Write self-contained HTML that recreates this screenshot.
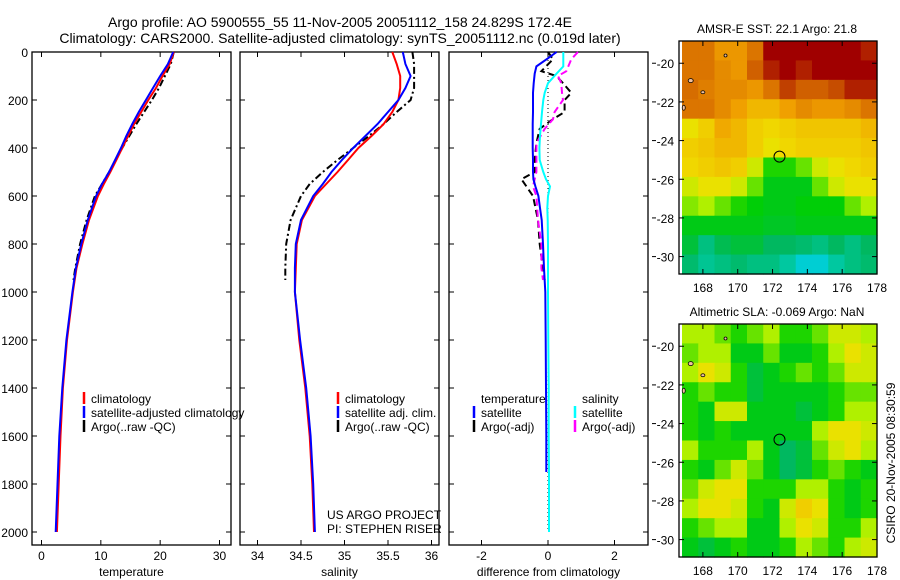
<!DOCTYPE html>
<html><head><meta charset="utf-8"><style>
html,body{margin:0;padding:0;background:#fff;}
svg{display:block;font-family:"Liberation Sans",Arial,sans-serif;}
</style></head>
<body>
<svg id="fig" width="900" height="580" viewBox="0 0 900 580" xmlns="http://www.w3.org/2000/svg">
<text x="340" y="27" font-size="14" text-anchor="middle">Argo profile: AO 5900555_55 11-Nov-2005 20051112_158 24.829S 172.4E</text>
<text x="340" y="43" font-size="14" text-anchor="middle">Climatology: CARS2000. Satellite-adjusted climatology: synTS_20051112.nc (0.019d later)</text>
<g id="g1"></g>
<g id="g2"></g>
<g id="g3"></g>
<g id="m1"></g>
<g id="m2"></g>
<text transform="translate(895,463) rotate(-90)" font-size="12" text-anchor="middle">CSIRO 20-Nov-2005 08:30:59</text>
</svg>
<script>
// ---- data ----
const depths = [0,50,100,150,200,250,300,350,400,450,500,550,600,700,800,900,1000,1200,1400,1600,1800,2000];
const tempClim = [22.3,21.6,20.4,19.3,18.0,16.8,15.6,14.6,13.6,12.6,11.6,10.5,9.5,8.0,6.9,5.9,5.3,4.3,3.6,3.2,2.9,2.6];
const tempSat  = [22.2,21.3,20.0,18.8,17.6,16.4,15.3,14.3,13.4,12.4,11.4,10.2,9.2,7.8,6.7,5.8,5.2,4.2,3.5,3.0,2.7,2.4];
const argoDepths = [0,50,100,150,200,250,300,350,400,450,500,550,600,700,800,900,950];
const tempArgo = [22.3,21.8,20.8,19.8,18.6,17.3,16.0,14.8,13.6,12.5,11.4,10.2,9.0,7.6,6.5,5.7,5.4];
const salClim = [35.55,35.60,35.64,35.64,35.62,35.55,35.45,35.31,35.16,35.04,34.92,34.79,34.66,34.51,34.45,34.44,34.43,34.48,34.55,34.60,34.63,34.65];
const salSat  = [35.67,35.70,35.76,35.70,35.62,35.50,35.38,35.24,35.10,34.97,34.85,34.75,34.64,34.50,34.44,34.43,34.43,34.49,34.56,34.61,34.64,34.66];
const salArgo = [35.78,35.80,35.80,35.80,35.76,35.60,35.45,35.28,35.10,34.92,34.75,34.60,34.50,34.38,34.33,34.32,34.32];
const diffDepths = [0,30,60,90,130,170,200,250,300,350,400,450,500,530,560,600,650,700,800,900,1000,1200,1400,1600,1750,2000];
const dTempSat = [0.26,-0.04,-0.35,-0.40,-0.43,-0.45,-0.45,-0.45,-0.46,-0.46,-0.46,-0.45,-0.45,-0.44,-0.38,-0.29,-0.24,-0.19,-0.15,-0.12,-0.08,-0.07,-0.06,-0.05,-0.05,null];
const dSalSat  = [0.46,0.46,0.46,0.26,0.0,-0.10,-0.14,-0.18,-0.21,-0.24,-0.26,-0.25,-0.14,-0.06,0.06,0.0,-0.02,-0.01,0.0,0.0,0.0,0.01,0.02,0.02,0.03,0.03];
const dArgoDepths = [0,30,80,100,130,170,200,250,280,320,380,450,500,530,560,600,700,800,900,950];
const dTempArgo = [0.0,0.15,-0.20,0.25,0.45,0.70,0.50,0.50,0.15,-0.25,-0.35,-0.40,-0.40,-0.80,-0.65,-0.45,-0.30,-0.25,-0.15,-0.10];
const dSalArgo  = [0.90,0.70,0.55,0.30,0.40,0.42,0.45,0.20,0.15,-0.10,-0.35,-0.35,-0.35,-0.40,-0.45,-0.35,-0.30,-0.20,-0.20,-0.15];
const depthTicks = [0,200,400,600,800,1000,1200,1400,1600,1800,2000];
const tempTicks = [0,10,20,30];
const salTicks = [34,34.5,35,35.5,36];
const diffTicks = [-2,0,2];
const latTicks = [-20,-22,-24,-26,-28,-30];
const lonTicks = [168,170,172,174,176,178];
const sstGrid = [
[0.80,0.80,0.72,0.72,0.80,1.00,1.00,1.00,1.00,1.00,1.00,0.95],
[0.80,0.80,0.75,0.72,0.85,0.95,1.00,0.95,1.00,1.00,1.00,1.00],
[0.82,0.78,0.75,0.75,0.72,0.80,0.90,0.85,0.85,0.88,0.95,0.95],
[0.80,0.80,0.75,0.70,0.65,0.65,0.70,0.75,0.72,0.72,0.75,0.80],
[0.55,0.60,0.68,0.65,0.60,0.58,0.60,0.62,0.62,0.62,0.62,0.65],
[0.60,0.62,0.65,0.65,0.60,0.55,0.58,0.60,0.60,0.60,0.60,0.62],
[0.58,0.60,0.62,0.60,0.50,0.35,0.35,0.40,0.50,0.55,0.58,0.60],
[0.50,0.55,0.55,0.50,0.40,0.30,0.30,0.30,0.40,0.50,0.55,0.55],
[0.42,0.45,0.40,0.35,0.32,0.30,0.30,0.32,0.32,0.32,0.40,0.45],
[0.30,0.30,0.30,0.30,0.30,0.28,0.28,0.30,0.30,0.30,0.30,0.30],
[0.25,0.15,0.22,0.25,0.25,0.20,0.20,0.18,0.15,0.20,0.15,0.20],
[0.18,0.12,0.15,0.18,0.15,0.15,0.10,0.02,0.02,0.10,0.15,0.18]];
const slaGrid = [
[0.45,0.45,0.40,0.35,0.40,0.45,0.35,0.35,0.40,0.50,0.50,0.45],
[0.40,0.45,0.45,0.30,0.30,0.40,0.30,0.30,0.35,0.45,0.55,0.50],
[0.45,0.55,0.50,0.35,0.25,0.30,0.35,0.40,0.35,0.40,0.50,0.50],
[0.35,0.40,0.35,0.35,0.25,0.30,0.30,0.30,0.30,0.35,0.40,0.40],
[0.35,0.30,0.50,0.50,0.30,0.30,0.30,0.25,0.30,0.35,0.45,0.45],
[0.35,0.30,0.35,0.30,0.30,0.30,0.30,0.30,0.45,0.55,0.55,0.50],
[0.45,0.35,0.35,0.35,0.45,0.30,0.20,0.25,0.40,0.50,0.55,0.45],
[0.35,0.30,0.40,0.50,0.40,0.30,0.20,0.25,0.35,0.40,0.35,0.30],
[0.40,0.50,0.55,0.55,0.35,0.35,0.35,0.45,0.45,0.35,0.30,0.35],
[0.45,0.55,0.55,0.50,0.35,0.30,0.50,0.60,0.55,0.35,0.30,0.35],
[0.35,0.40,0.45,0.45,0.30,0.30,0.45,0.55,0.50,0.35,0.35,0.45],
[0.30,0.25,0.30,0.35,0.30,0.30,0.35,0.45,0.40,0.35,0.45,0.50]];
const argoLon = 172.4, argoLat = -24.83;

// ---- helpers ----
const NS='http://www.w3.org/2000/svg';
function mk(parent,tag,attrs){const e=document.createElementNS(NS,tag);for(const k in attrs)e.setAttribute(k,attrs[k]);parent.appendChild(e);return e;}
const Y0=52, Y1=545, yD=d=>Y0+d*0.24;
function lin(d0,d1,r0,r1){return v=>r0+(v-d0)*(r1-r0)/(d1-d0);}

function panel(g,x0,x1,xs,xticks,showY,label,lname){
  const r=mk(g,'rect',{x:x0,y:Y0,width:x1-x0,height:Y1-Y0,fill:'none',stroke:'#000','stroke-width':1.3});
  
  
  depthTicks.forEach(d=>{
    const y=yD(d);
    mk(g,'line',{x1:x0,x2:x0+5,y1:y,y2:y,stroke:'#000'});
    mk(g,'line',{x1:x1,x2:x1-5,y1:y,y2:y,stroke:'#000'});
    if(showY){const t=mk(g,'text',{x:x0-4,y:y+5,'font-size':12,'text-anchor':'end'});t.textContent=d;
      
      }
  });
  xticks.forEach(v=>{
    const x=xs(v);
    mk(g,'line',{x1:x,x2:x,y1:Y1,y2:Y1-5,stroke:'#000'});
    mk(g,'line',{x1:x,x2:x,y1:Y0,y2:Y0+5,stroke:'#000'});
    const t=mk(g,'text',{x:x,y:560,'font-size':12,'text-anchor':'middle'});t.textContent=v;
    
    
  });
  const t=mk(g,'text',{x:(x0+x1)/2,y:576,'font-size':12,'text-anchor':'middle'});t.textContent=label;
  
  
}
function series(g,xs,ds,vals,color,dash,name,w){
  let pts=[];ds.forEach((d,i)=>{if(vals[i]!==null)pts.push(xs(vals[i]).toFixed(1)+','+yD(d).toFixed(1));});
  const p=mk(g,'polyline',{points:pts.join(' '),fill:'none',stroke:color,'stroke-width':w||2,'stroke-dasharray':dash||'none'});
  
  
}
function legend(g,x,y,color,text,name){
  if(color){mk(g,'line',{x1:x,x2:x,y1:y-11,y2:y+1,stroke:color,'stroke-width':2.5});}
  const t=mk(g,'text',{x:x+7,y:y,'font-size':12});t.textContent=text;
  
  
}

// ---- temperature panel ----
const g1=document.getElementById('g1');
const xT=lin(0,30,41.5,219.5);
panel(g1,32,231,xT,tempTicks,true,'temperature','temperature');
series(g1,xT,argoDepths,tempArgo,'#000','7,3,2,3','argo-temperature-line');
series(g1,xT,depths,tempClim,'#f00',null,'climatology-temperature-line');
series(g1,xT,depths,tempSat,'#00f',null,'satellite-temperature-line');
legend(g1,84,403,'#f00','climatology','legend-climatology');
legend(g1,84,417,'#00f','satellite-adjusted climatology','legend-satellite-adjusted');
legend(g1,84,431,'#000','Argo(..raw -QC)','legend-argo');

// ---- salinity panel ----
const g2=document.getElementById('g2');
const xS=lin(34,36,257.5,431.5);
panel(g2,240,439,xS,salTicks,false,'salinity','salinity');
series(g2,xS,argoDepths,salArgo,'#000','7,3,2,3','argo-salinity-line');
series(g2,xS,depths,salClim,'#f00',null,'climatology-salinity-line');
series(g2,xS,depths,salSat,'#00f',null,'satellite-salinity-line');
legend(g2,338,403,'#f00','climatology','legend-climatology');
legend(g2,338,417,'#00f','satellite adj. clim.','legend-satellite-adj');
legend(g2,338,431,'#000','Argo(..raw -QC)','legend-argo');
legend(g2,320,519,null,'US ARGO PROJECT','project-note');
legend(g2,320,533,null,'PI: STEPHEN RISER','pi-note');

// ---- difference panel ----
const g3=document.getElementById('g3');
const xDf=lin(-2,2,481.5,614.5);
panel(g3,449,648,xDf,diffTicks,false,'difference from climatology','difference');
const zl=mk(g3,'line',{x1:xDf(0),x2:xDf(0),y1:Y0,y2:yD(2000),stroke:'#000','stroke-dasharray':'1,3'});


series(g3,xDf,dArgoDepths,dTempArgo,'#000','7,4','argo-temperature-diff-line');
series(g3,xDf,dArgoDepths,dSalArgo,'#f0f','7,4','argo-salinity-diff-line');
series(g3,xDf,diffDepths,dTempSat,'#00f',null,'satellite-temperature-diff-line');
series(g3,xDf,diffDepths,dSalSat,'#0ff',null,'satellite-salinity-diff-line');
legend(g3,474,403,null,'temperature','legend-temperature-header');
legend(g3,575,403,null,'salinity','legend-salinity-header');
legend(g3,474,417,'#00f','satellite','legend-temp-satellite');
legend(g3,474,431,'#000','Argo(-adj)','legend-temp-argo');
legend(g3,575,417,'#0ff','satellite','legend-sal-satellite');
legend(g3,575,431,'#f0f','Argo(-adj)','legend-sal-argo');

// ---- maps ----
const stops=[[0,[0,208,224]],[0.1,[0,200,160]],[0.2,[0,184,96]],[0.33,[0,208,0]],[0.45,[176,240,0]],[0.56,[240,224,0]],[0.7,[240,160,0]],[0.85,[208,96,0]],[1,[160,0,0]]];
function cmap(v){for(let i=1;i<stops.length;i++){if(v<=stops[i][0]){const a=stops[i-1],b=stops[i],t=(v-a[0])/(b[0]-a[0]);
  return 'rgb('+a[1].map((c,j)=>Math.round(c+(b[1][j]-c)*t)).join(',')+')';}}return 'rgb(160,0,0)';}
function map(id,top,grid,title,name){
  const g=document.getElementById(id);
  const bot=top+233, x0=682, x1=877;
  const xL=lin(166.8,178,682,877), yL=lin(-18.85,-30.9,top,bot);
  const rows=grid.length, cols=grid[0].length;
  const cw=(x1-x0)/cols, ch=(bot-top)/rows;
  grid.forEach((row,r)=>row.forEach((v,c)=>{
    const e=mk(g,'rect',{x:(x0+c*cw).toFixed(2),y:(top+r*ch).toFixed(2),width:(cw+0.6).toFixed(2),height:(ch+0.6).toFixed(2),fill:cmap(v)});
    
    
  }));
  [[167.3,-20.9,2.5,2],[168,-21.5,2,1.5],[166.9,-22.3,1.5,2.5],[169.3,-19.6,1.5,1.5]].forEach(s=>{
    const e=mk(g,'ellipse',{cx:xL(s[0]),cy:yL(s[1]),rx:s[2],ry:s[3],fill:'#f0c0a0',stroke:'#000','stroke-width':0.8});
    
    
  });
  const f=mk(g,'rect',{x:679,y:top,width:x1-679,height:bot-top,fill:'none',stroke:'#000','stroke-width':1.3});
  
  
  latTicks.forEach(l=>{const y=yL(l);
    mk(g,'line',{x1:679,x2:684,y1:y,y2:y,stroke:'#000'});
    mk(g,'line',{x1:x1,x2:x1-5,y1:y,y2:y,stroke:'#000'});
    mk(g,'line',{x1:652,x2:656,y1:y,y2:y,stroke:'#000'});
    const t=mk(g,'text',{x:674,y:y+5,'font-size':12,'text-anchor':'end'});t.textContent=l;
    
    });
  lonTicks.forEach(l=>{const x=xL(l);
    mk(g,'line',{x1:x,x2:x,y1:bot,y2:bot-5,stroke:'#000'});
    mk(g,'line',{x1:x,x2:x,y1:top,y2:top+5,stroke:'#000'});
    const t=mk(g,'text',{x:x,y:bot+18,'font-size':12,'text-anchor':'middle'});t.textContent=l;
    
    });
  const c=mk(g,'circle',{cx:xL(argoLon),cy:yL(argoLat),r:5.5,fill:'none',stroke:'#000','stroke-width':1});
  
  
  const t=mk(g,'text',{x:777,y:top-8,'font-size':12,'text-anchor':'middle'});t.textContent=title;
  
  
}
map('m1',41,sstGrid,'AMSR-E SST: 22.1 Argo: 21.8','sst-map');
map('m2',324,slaGrid,'Altimetric SLA: -0.069 Argo: NaN','sla-map');
</script>
</body></html>
